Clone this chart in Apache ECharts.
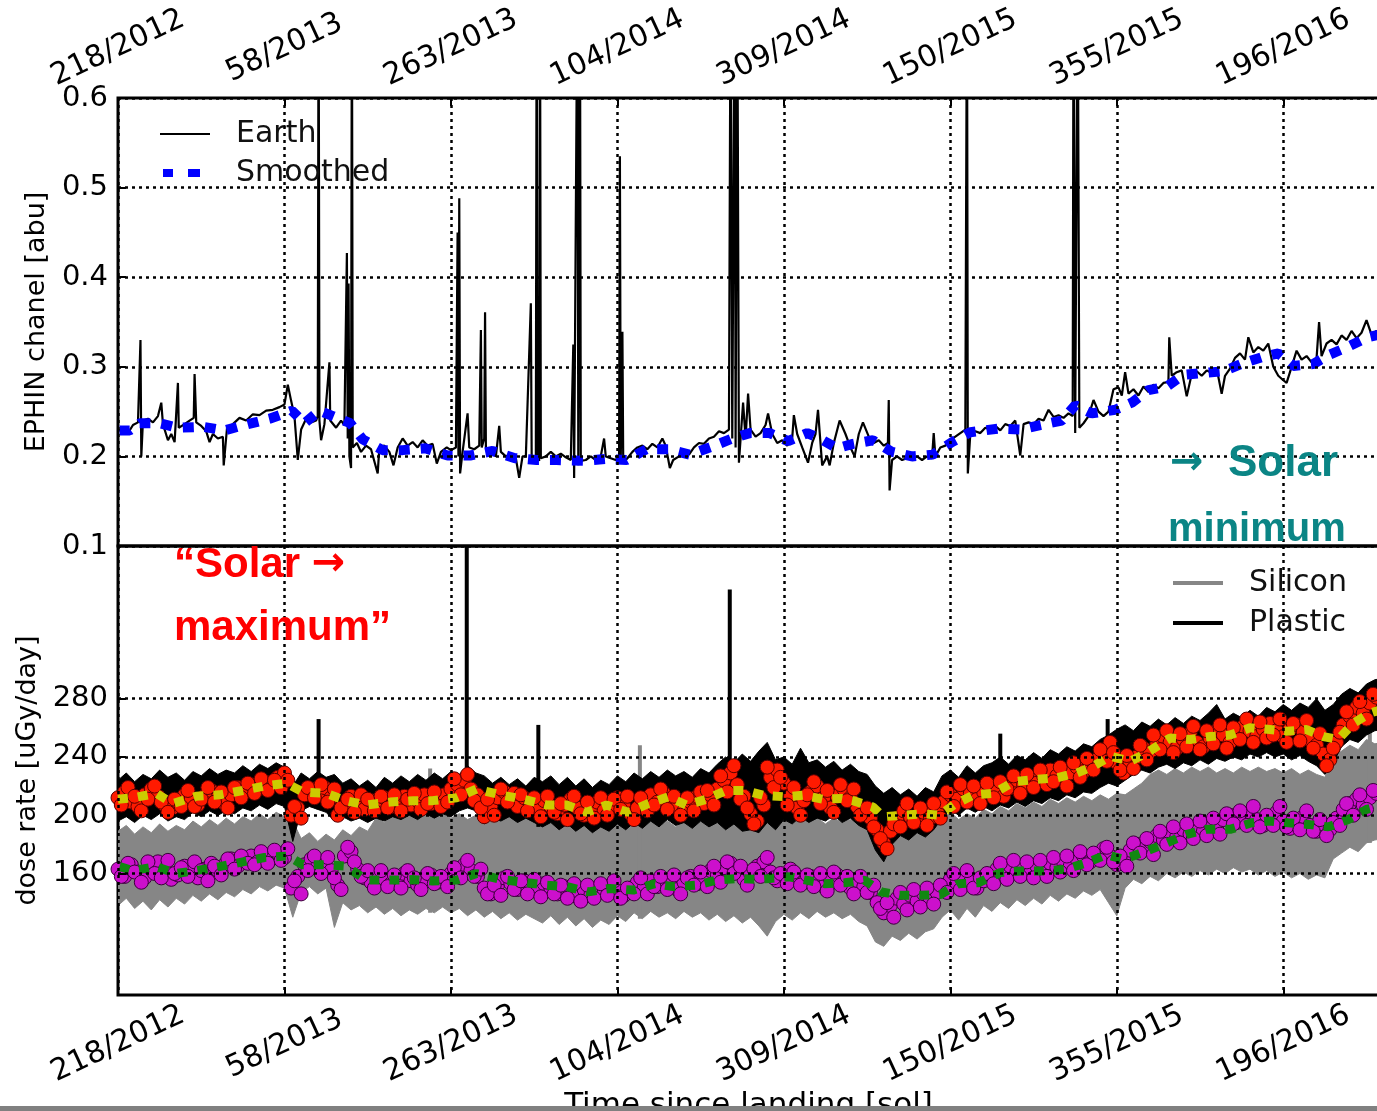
<!DOCTYPE html>
<html>
<head>
<meta charset="utf-8">
<script src="https://cdn.jsdelivr.net/npm/echarts@6/dist/echarts.min.js"></script>
<style>
  html, body { margin: 0; padding: 0; background: #fff; }
  #chart { width: 1377px; height: 1111px; }
</style>
</head>
<body>
<div id="chart"></div>
<script>
// ---- x axis: sols since landing, labelled with day-of-year/year ----
const SOL_TICKS = [0, 200, 400, 600, 800, 1000, 1200, 1400];
const SOL_LABELS = ['218/2012', '58/2013', '263/2013', '104/2014', '309/2014', '150/2015', '355/2015', '196/2016'];
const DOSE_TICKS = [160, 200, 240, 280];

// ---- upper panel: EPHIN channel, [sol, value] ----
const earth = [
  [0,.228],[6,.232],[12,.226],[18,.235],[24,.238],[26,.24],[27,.33],[28,.2],[30,.24],[36,.242],[42,.238],[48,.245],[52,.26],[54,.236],
  [60,.218],[64,.225],[68,.216],[72,.282],[73,.232],[80,.236],[86,.24],[91,.243],[92,.292],[94,.238],[100,.234],[106,.228],[110,.216],
  [114,.225],[120,.22],[126,.222],[127,.19],[131,.232],[138,.236],[146,.243],[154,.24],[162,.247],[170,.246],[178,.251],[186,.252],
  [194,.255],[200,.258],[204,.28],[208,.262],[212,.245],[216,.196],[220,.23],[226,.242],[232,.238],[238,.24],[240,.245],[241,.75],
  [242,.24],[244,.218],[248,.236],[254,.305],[255,.24],[262,.232],[268,.24],[272,.235],[275,.427],[276,.22],[277,.393],[278,.2],
  [280,.187],[281,.75],[282,.21],[287,.215],[292,.205],[298,.212],[304,.208],[312,.181],[314,.21],[320,.212],[326,.205],[331,.19],
  [336,.21],[342,.22],[348,.212],[354,.216],[360,.21],[366,.218],[372,.212],[378,.214],[383,.192],[388,.205],[395,.21],[400,.207],
  [406,.21],[408,.45],[409,.2],[410,.488],[411,.181],[414,.205],[420,.248],[422,.21],[428,.208],[434,.212],[436,.341],[437,.21],
  [440,.22],[441,.361],[442,.21],[448,.205],[454,.2],[458,.234],[460,.205],[466,.2],[472,.202],[478,.198],[482,.176],[486,.2],
  [490,.2],[496,.371],[497,.2],[502,.198],[503,.75],[504,.2],[506,.195],[507,.75],[508,.198],[514,.2],[520,.205],[526,.2],[532,.203],
  [538,.199],[544,.196],[547,.325],[548,.176],[552,.75],[553,.19],[555,.75],[556,.195],[562,.196],[568,.2],[574,.196],[580,.2],
  [584,.22],[586,.2],[592,.198],[598,.196],[602,.2],[603,.535],[604,.195],[606,.339],[607,.193],[612,.198],[618,.205],[624,.21],
  [630,.212],[636,.208],[642,.214],[648,.21],[654,.22],[658,.212],[663,.187],[667,.196],[674,.2],[680,.205],[686,.202],[692,.21],
  [698,.215],[704,.214],[710,.22],[716,.222],[722,.228],[728,.226],[734,.23],[736,.75],[738,.22],[741,.75],[742,.21],[744,.75],
  [746,.193],[751,.26],[754,.22],[757,.27],[760,.23],[766,.222],[772,.226],[778,.235],[781,.248],[786,.225],[792,.215],[798,.218],
  [804,.212],[810,.22],[812,.246],[816,.225],[822,.21],[829,.193],[834,.215],[838,.225],[841,.252],[846,.19],[852,.2],[855,.19],
  [860,.215],[867,.24],[874,.225],[880,.21],[885,.2],[890,.225],[895,.238],[902,.222],[908,.215],[914,.218],[920,.212],[925,.215],
  [926,.263],[927,.162],[930,.196],[936,.2],[942,.196],[948,.198],[954,.197],[960,.2],[966,.196],[972,.2],[978,.198],[980,.226],
  [982,.2],[988,.21],[994,.212],[1000,.218],[1006,.222],[1012,.226],[1018,.23],[1020,.75],[1021,.181],[1024,.225],[1030,.228],
  [1036,.226],[1042,.232],[1048,.23],[1054,.234],[1060,.229],[1066,.236],[1072,.234],[1078,.24],[1084,.201],[1088,.236],[1094,.238],
  [1100,.236],[1106,.242],[1112,.24],[1118,.252],[1124,.244],[1130,.246],[1136,.243],[1142,.248],[1147,.245],[1148,.75],[1150,.226],
  [1153,.75],[1155,.232],[1160,.237],[1166,.245],[1172,.263],[1178,.25],[1184,.245],[1190,.25],[1196,.275],[1202,.277],[1206,.268],
  [1210,.294],[1214,.27],[1220,.275],[1226,.268],[1232,.278],[1238,.272],[1244,.28],[1250,.276],[1256,.282],[1262,.283],[1263,.333],
  [1266,.29],[1272,.294],[1278,.296],[1284,.267],[1290,.292],[1296,.295],[1302,.29],[1308,.296],[1314,.293],[1320,.298],[1326,.27],
  [1330,.29],[1336,.298],[1342,.31],[1348,.315],[1354,.308],[1358,.333],[1364,.316],[1370,.322],[1376,.318],[1382,.326],[1388,.3],
  [1394,.29],[1400,.285],[1404,.282],[1410,.3],[1416,.318],[1422,.308],[1428,.312],[1434,.305],[1440,.31],[1443,.35],[1446,.312],
  [1452,.326],[1458,.33],[1464,.325],[1470,.335],[1476,.33],[1482,.34],[1488,.332],[1494,.338],[1500,.352],[1506,.336],[1512,.34],
  [1520,.338]
];
const earthSmoothed = [
  [2,.229],[14,.229],[26,.237],[50,.237],[72,.232],[102,.233],[128,.229],[156,.236],[182,.242],[209,.251],[224,.237],[242,.251],
  [258,.245],[279,.237],[294,.219],[318,.207],[342,.207],[369,.209],[396,.201],[423,.201],[450,.206],[477,.198],[503,.196],[527,.196],
  [559,.195],[585,.197],[611,.196],[635,.208],[661,.208],[687,.202],[714,.211],[738,.22],[759,.226],[783,.226],[805,.217],[828,.226],
  [843,.22],[864,.209],[883,.214],[907,.218],[930,.205],[954,.2],[979,.202],[1002,.216],[1024,.227],[1057,.231],[1084,.23],
  [1108,.235],[1134,.24],[1150,.257],[1170,.248],[1198,.252],[1218,.26],[1238,.274],[1260,.278],[1280,.291],[1304,.293],[1328,.295],
  [1352,.304],[1375,.311],[1394,.315],[1412,.301],[1436,.303],[1454,.313],[1477,.322],[1501,.333],[1520,.337]
];

// ---- lower panel: dose rate envelopes every ENV_STEP sols (0 .. 1520) ----
const ENV_STEP = 10;
const plasticHigh = [
  224,229,223,228,225,231,226,229,224,230, 227,232,228,231,229,234,230,235,232,236,
  233,220,229,225,230,226,228,222,225,220, 224,219,226,222,227,223,228,224,229,225,
  230,228,234,229,227,222,226,221,225,220, 226,223,227,221,226,220,225,219,224,221,
  227,223,229,225,230,226,231,227,230,226, 232,229,235,240,236,242,237,244,250,238,
  240,235,246,236,238,233,237,231,235,230, 228,220,215,219,214,218,213,219,216,227,
  231,226,234,229,234,236,240,235,241,238, 243,239,245,242,247,244,249,247,252,255,
  259,262,258,264,261,266,262,267,263,268, 265,270,276,266,270,267,272,268,274,271,
  276,272,277,274,280,272,276,283,287,284, 290,293,294
];
const plasticLow = [
  196,199,195,200,197,201,196,199,197,202, 199,203,200,203,201,205,203,207,204,208,
  206,182,203,206,204,202,196,199,196,198, 195,198,196,199,197,200,197,201,198,201,
  199,203,205,203,194,198,196,199,195,198, 195,192,195,190,194,189,193,188,192,189,
  194,190,195,191,196,192,197,193,195,191, 196,192,195,190,194,189,190,188,195,190,
  197,194,199,195,198,196,200,195,198,193, 190,176,168,180,186,183,188,185,190,198,
  204,200,205,202,206,203,207,205,209,206, 210,208,212,210,214,212,216,215,219,222,
  220,224,228,231,229,233,235,232,236,234, 238,235,239,237,240,238,242,240,243,240,
  242,238,241,237,234,228,236,247,252,250, 255,258,259
];
const siliconHigh = [
  189,193,187,192,188,194,189,193,190,196, 192,197,193,198,194,199,196,201,197,202,
  199,196,184,188,182,187,183,190,186,192, 189,198,195,200,197,201,198,202,199,201,
  198,201,197,200,196,200,197,201,198,200, 196,193,197,191,195,190,194,189,193,190,
  195,191,196,193,197,192,196,192,197,193, 196,192,197,194,198,194,199,195,198,193,
  197,194,199,195,198,194,198,195,197,194, 193,187,184,189,186,190,187,191,190,198,
  202,197,201,198,204,201,206,203,208,205, 209,206,211,208,212,209,213,210,214,211,
  215,214,218,222,228,231,228,232,229,233, 230,233,229,232,229,233,230,233,230,232,
  229,232,228,231,228,226,240,244,248,245, 252,249,250
];
const siliconLow = [
  138,143,136,141,135,142,137,143,139,145, 141,146,142,147,144,149,146,151,148,152,
  150,130,147,151,146,150,123,140,135,138, 133,137,132,136,131,135,132,136,133,137,
  133,136,131,135,130,134,129,133,128,132, 129,126,131,125,130,124,129,123,128,125,
  131,127,133,129,134,130,133,129,134,130, 133,128,132,127,131,126,130,124,117,127,
  132,128,133,129,134,130,133,129,132,127, 124,113,110,117,114,119,115,120,122,130,
  135,128,136,130,138,134,140,136,142,138, 143,139,145,141,146,143,148,145,149,140,
  131,150,156,153,158,155,160,157,161,158, 162,159,163,160,164,161,163,159,162,158,
  161,157,160,156,159,157,170,174,178,175, 181,183,184
];
// single-sol excursions, [sol, dose]
const plasticSpikes = [[241,266],[419,390],[505,262],[735,355],[1060,256],[1189,266]];
const siliconSpikes = [[375,232],[627,248],[1504,259]];

// ---- lower panel: binned points, two interleaved sets every DOT_STEP sols ----
const DOT_STEP = 8;
const plasticPoints = [          // sols 0, 8, 16, ...
  212,216,209,206,214,218,213,207,204,209, 214,211,207,213,217,212,208,214,219,216,
  221,218,223,220,226,229,200,205,214,218, 215,219,212,200,206,213,208,204,210,207,
  212,206,209,213,207,210,214,208,211,214, 218,221,224,218,214,199,206,212,216,210,
  206,212,208,204,210,206,201,207,211,205, 200,204,209,203,207,212,206,201,205,210,
  214,209,215,211,206,203,209,213,208,214, 218,224,229,221,213,201,196,207,226,231,
  222,213,205,210,216,220,212,205,213,218, 212,206,201,198,190,181,189,198,203,199,
  196,202,198,203,209,214,211,218,215,211, 216,220,217,213,219,224,221,226,222,227,
  231,227,224,229,233,230,235,238,244,250, 236,229,236,240,246,243,249,254,250,246,
  252,256,250,247,253,258,255,250,256,261, 258,254,259,263,258,254,259,262,257,252,
  248,242,238,250,262,268,274,270,277,281
];
const plasticPointsMid = [       // sols 4, 12, 20, ...
  207,219,213,203,211,220,209,202,211,206, 217,206,211,219,209,216,205,219,212,222,
  215,225,217,224,219,224,206,198,219,212, 221,209,218,205,211,202,214,211,203,213,
  205,214,203,211,215,204,208,216,206,209, 225,214,228,210,205,211,200,218,209,215,
  214,203,212,199,213,202,208,197,213,201, 209,198,212,200,211,204,213,197,212,203,
  207,218,204,213,200,212,203,216,217,207, 227,216,234,211,205,194,212,233,219,226,
  207,219,200,214,223,208,217,202,221,210, 218,200,205,192,184,177,194,192,208,195,
  205,193,208,198,216,206,221,209,220,208, 222,212,223,218,227,215,228,219,231,221,
  223,233,220,236,226,239,231,245,237,243, 231,241,232,248,238,255,245,258,243,256,
  247,261,245,258,249,262,246,260,252,266, 250,264,253,255,266,250,263,251,265,246,
  256,234,246,257,271,262,278,266,283,276
];
const siliconPoints = [          // sols 0, 8, 16, ...
  163,158,166,161,157,163,168,162,156,159, 165,161,157,163,167,162,166,170,165,169,
  172,168,173,170,174,171,150,158,166,170, 165,168,162,152,172,175,163,157,154,159,
  156,153,157,160,155,152,156,159,154,157, 160,163,166,162,158,150,146,152,157,153,
  149,155,151,148,153,150,146,151,147,144, 149,145,150,147,152,148,145,150,154,150,
  155,151,156,153,149,154,158,153,157,162, 159,164,167,161,156,160,165,168,161,155,
  159,163,158,154,158,155,151,156,159,154, 150,155,151,147,140,133,138,143,139,145,
  141,146,142,147,151,156,153,158,154,150, 155,159,163,160,165,161,164,160,165,162,
  167,164,168,165,170,172,168,173,177,172, 166,170,176,180,177,182,186,183,188,185,
  190,187,192,189,194,191,197,200,195,199, 202,197,193,198,202,196,191,195,199,193,
  189,194,190,198,204,208,211,207,212,215
];
const siliconPointsMid = [       // sols 4, 12, 20, ...
  158,167,161,154,168,160,157,169,160,164, 158,168,162,155,165,159,170,163,172,167,
  166,175,167,176,169,177,155,146,162,172, 160,171,157,149,178,168,158,162,150,162,
  151,159,150,162,157,149,160,153,158,151, 164,157,169,158,163,146,152,145,158,149,
  155,146,156,144,154,146,152,143,153,141, 152,143,153,145,155,143,150,146,157,146,
  151,158,149,159,146,157,152,161,151,165, 154,168,160,165,152,163,158,171,157,160,
  153,161,152,159,151,160,148,161,152,158, 146,158,147,152,136,140,130,147,135,149,
  137,150,139,152,147,160,149,162,150,157, 160,153,167,156,169,158,168,157,169,158,
  171,161,172,162,175,166,174,169,178,168, 172,165,181,174,184,173,189,180,192,181,
  194,184,196,186,198,187,201,194,203,193, 206,192,200,193,206,192,198,190,203,189,
  197,186,195,193,208,200,214,204,217,210
];
// running means, [sol, dose]
const plasticSmoothed = [
  [0,211],[18,212],[46,215],[66,208],[94,213],[122,214],[150,217],[176,220],[202,222],[222,216],[250,215],[274,210],[298,207],
  [327,209],[355,210],[378,210],[407,212],[431,218],[459,214],[487,211],[515,207],[539,207],[563,202],[587,207],[613,202],[637,208],
  [661,212.6],[683,207],[707,211],[731,217],[753,217],[775,213.7],[803,212.6],[823,213.7],[847,211],[869,211.5],[883,210],
  [907,205.7],[919,199],[943,200],[967,201],[987,200],[1004,207],[1028,214],[1052,215],[1076,223],[1102,224.5],[1128,225.7],
  [1152,229],[1172,233.7],[1192,240.5],[1216,237],[1236,242.8],[1264,253],[1288,252],[1312,254],[1336,255],[1360,260],
  [1384,258.8],[1404,257.6],[1428,258.8],[1448,254],[1466,252],[1484,263],[1504,270],[1520,273]
];
const siliconSmoothed = [
  [2,164.7],[18,162],[46,164.7],[70,160],[94,162],[122,164.7],[150,168],[176,171],[204,172],[222,166],[250,166],[274,165],
  [298,155.5],[327,155.5],[355,155.8],[378,154.8],[407,155.5],[431,160],[459,156],[487,154],[515,152],[539,151],[565,147.4],
  [591,149.7],[619,148.6],[645,153],[667,151],[695,152],[719,155.4],[745,156.6],[767,155.9],[783,156.6],[807,157.7],[827,155.4],
  [849,153],[873,153.6],[897,155.4],[917,147.4],[939,145],[963,145],[988,145.5],[1010,153],[1034,153.7],[1060,160.6],[1084,161.7],
  [1112,161.7],[1138,162.9],[1164,167.4],[1188,173],[1208,169.7],[1236,175.4],[1260,181],[1284,186.8],[1308,190.3],[1336,190.3],
  [1362,194.8],[1384,196],[1406,194.8],[1430,193.7],[1454,192],[1478,197],[1500,204],[1520,207]
];

// ---- helpers ----
const FONT = 'DejaVu Sans';
const envSols = plasticHigh.map((_, i) => i * ENV_STEP);

function bandRows(lo, hi) {
  return envSols.map((s, i) => [s, lo[i], hi[i]]);
}

function pointRows(vals, offset) {
  return vals.map((v, i) => [i * DOT_STEP + offset, v]);
}

// fills the area between a low and a high envelope and adds the spikes on top
function bandRenderer(lo, hi, spikes, color) {
  return function (params, api) {
    if (params.dataIndex !== 0) return null;
    const pts = [];
    for (let i = 0; i < hi.length; i++) pts.push(api.coord([envSols[i], hi[i]]));
    for (let i = lo.length - 1; i >= 0; i--) pts.push(api.coord([envSols[i], lo[i]]));
    const children = [{
      type: 'polygon', shape: { points: pts },
      style: { fill: color, stroke: color, lineWidth: 1 }
    }];
    spikes.forEach(function (sp) {
      const i = Math.min(lo.length - 1, Math.round(sp[0] / ENV_STEP));
      const a = api.coord([sp[0], lo[i]]);
      const b = api.coord([sp[0], sp[1]]);
      children.push({
        type: 'line', shape: { x1: a[0], y1: a[1], x2: b[0], y2: b[1] },
        style: { stroke: color, lineWidth: 4 }
      });
    });
    return { type: 'group', children: children };
  };
}

function solLabel(v) {
  const i = SOL_TICKS.indexOf(Math.round(v));
  return i >= 0 ? SOL_LABELS[i] : '';
}

// hand-lettered notes: words in Liberation Sans, arrows in DejaVu Sans
function note(x, y, text, color, size) {
  return {
    type: 'text', x: x, y: y, z: 20,
    style: {
      text: text, fill: color, verticalAlign: 'middle',
      font: 'bold ' + size + 'px "Liberation Sans"',
      rich: {
        w: { fontFamily: 'Liberation Sans', fontWeight: 'bold', fontSize: size, fill: color },
        a: { fontFamily: 'DejaVu Sans', fontWeight: 'bold', fontSize: 40, fill: color }
      }
    }
  };
}

const gridLine = { show: true, lineStyle: { color: '#000', width: 2.5, type: [3, 4] } };
const tickStyle = { show: true, inside: true, length: 8, lineStyle: { color: '#000', width: 2 } };
const redDot = { color: '#ff1a00', borderColor: '#5a0000', borderWidth: 1, opacity: 1 };
const magentaDot = { color: '#cc10cc', borderColor: '#3a003a', borderWidth: 1, opacity: 1 };

const chart = echarts.init(document.getElementById('chart'), null, { renderer: 'canvas' });

chart.setOption({
  animation: false,
  backgroundColor: '#fff',
  grid: [
    { left: 118, right: -2, top: 98, height: 448, show: true, borderColor: '#000', borderWidth: 3, outerBoundsMode: 'none', containLabel: false },
    { left: 118, right: -2, top: 546, height: 449, show: true, borderColor: '#000', borderWidth: 3, outerBoundsMode: 'none', containLabel: false }
  ],
  xAxis: [
    {
      gridIndex: 0, type: 'value', position: 'top', min: 0, max: 1515, interval: 200, z: 8,
      axisLine: { show: false }, axisTick: tickStyle, splitLine: gridLine,
      axisLabel: { formatter: solLabel, rotate: -25, align: 'center', verticalAlign: 'middle', margin: 50,
        fontFamily: FONT, fontSize: 30, color: '#000' }
    },
    {
      gridIndex: 1, type: 'value', position: 'bottom', min: 0, max: 1515, interval: 200, z: 8,
      axisLine: { show: false }, axisTick: tickStyle, splitLine: gridLine,
      axisLabel: { formatter: solLabel, rotate: 25, align: 'center', verticalAlign: 'middle', margin: 49,
        fontFamily: FONT, fontSize: 30, color: '#000' },
      name: 'Time since landing [sol]', nameLocation: 'middle', nameGap: 93,
      nameTextStyle: { fontFamily: FONT, fontSize: 31, color: '#000', verticalAlign: 'top' }
    }
  ],
  yAxis: [
    {
      gridIndex: 0, type: 'value', min: 0.1, max: 0.6, interval: 0.1, z: 8,
      axisLine: { show: false }, axisTick: tickStyle, splitLine: gridLine,
      axisLabel: { formatter: v => v.toFixed(1), margin: 10, fontFamily: FONT, fontSize: 29, color: '#000' },
      name: 'EPHIN chanel [abu]', nameLocation: 'middle', nameGap: 66,
      nameTextStyle: { fontFamily: FONT, fontSize: 27, color: '#000' }
    },
    {
      gridIndex: 1, type: 'value', min: 76.6, max: 384.8, z: 8,
      axisLine: { show: false },
      axisTick: Object.assign({ customValues: DOSE_TICKS }, tickStyle),
      splitLine: gridLine,
      axisLabel: { customValues: DOSE_TICKS, margin: 10, fontFamily: FONT, fontSize: 29, color: '#000' },
      name: 'dose rate [uGy/day]', nameLocation: 'middle', nameGap: 76,
      nameTextStyle: { fontFamily: FONT, fontSize: 27, color: '#000' }
    }
  ],
  legend: [
    {
      left: 155, top: 114, orient: 'vertical', itemWidth: 50, itemHeight: 8, itemGap: 9, selectedMode: false,
      textStyle: { fontFamily: FONT, fontSize: 30, color: '#111', lineHeight: 30, padding: [0, 0, 0, 21] },
      data: [
        { name: 'Earth', icon: 'path://M0 3H50V5H0Z' },
        { name: 'Smoothed', icon: 'path://M3 0H13V8H3Z M28 0H40V8H28Z M0 0L0 0 M50 8L50 8' }
      ]
    },
    {
      left: 1168, top: 563, orient: 'vertical', itemWidth: 50, itemHeight: 8, itemGap: 10, selectedMode: false,
      textStyle: { fontFamily: FONT, fontSize: 30, color: '#111', lineHeight: 30, padding: [0, 0, 0, 21] },
      data: [
        { name: 'Silicon', icon: 'path://M0 0H50V4H0Z' },
        { name: 'Plastic', icon: 'path://M0 0H50V4H0Z' }
      ]
    }
  ],
  series: [
    {
      name: 'Earth', type: 'line', xAxisIndex: 0, yAxisIndex: 0, data: earth, showSymbol: false, z: 2,
      color: '#000', lineStyle: { color: '#000', width: 2.2 }, clip: true
    },
    {
      name: 'Smoothed', type: 'line', xAxisIndex: 0, yAxisIndex: 0, data: earthSmoothed, showSymbol: false, z: 3,
      color: '#0000ff', lineStyle: { color: '#0000ff', width: 10, type: [11, 11], cap: 'butt' }, clip: true
    },
    {
      name: 'Silicon', type: 'custom', xAxisIndex: 1, yAxisIndex: 1, z: 2, clip: true, progressive: 0,
      itemStyle: { color: '#868686' }, encode: { x: 0, y: [1, 2] },
      data: bandRows(siliconLow, siliconHigh),
      renderItem: bandRenderer(siliconLow, siliconHigh, siliconSpikes, '#868686')
    },
    {
      name: 'Plastic', type: 'custom', xAxisIndex: 1, yAxisIndex: 1, z: 3, clip: true, progressive: 0,
      itemStyle: { color: '#000' }, encode: { x: 0, y: [1, 2] },
      data: bandRows(plasticLow, plasticHigh),
      renderItem: bandRenderer(plasticLow, plasticHigh, plasticSpikes, '#000')
    },
    {
      name: 'Plastic binned', type: 'scatter', xAxisIndex: 1, yAxisIndex: 1, z: 4, symbolSize: 14,
      data: pointRows(plasticPoints, 0).concat(pointRows(plasticPointsMid, DOT_STEP / 2)),
      itemStyle: redDot
    },
    {
      name: 'Plastic smoothed', type: 'line', xAxisIndex: 1, yAxisIndex: 1, z: 5, data: plasticSmoothed, showSymbol: false,
      lineStyle: { color: '#cccc00', width: 9, type: [10, 10], cap: 'butt' }
    },
    {
      name: 'Silicon binned', type: 'scatter', xAxisIndex: 1, yAxisIndex: 1, z: 6, symbolSize: 14,
      data: pointRows(siliconPoints, 0).concat(pointRows(siliconPointsMid, DOT_STEP / 2)),
      itemStyle: magentaDot
    },
    {
      name: 'Silicon smoothed', type: 'line', xAxisIndex: 1, yAxisIndex: 1, z: 7, data: siliconSmoothed, showSymbol: false,
      lineStyle: { color: '#118811', width: 9, type: [10, 10], cap: 'butt' }
    }
  ],
  graphic: [
    note(174, 565, '{w|\u201CSolar }{a|\u2192}', '#ff0000', 42),
    note(174, 628, '{w|maximum\u201D}', '#ff0000', 42),
    note(1170, 464, '{a|\u2192}{w|  Solar}', '#0b8585', 44),
    note(1168, 530, '{w|minimum}', '#0b8585', 40),
    { type: 'rect', z: 30, shape: { x: 0, y: 1106, width: 1377, height: 5 }, style: { fill: '#808080' } }
  ]
});
</script>
</body>
</html>
